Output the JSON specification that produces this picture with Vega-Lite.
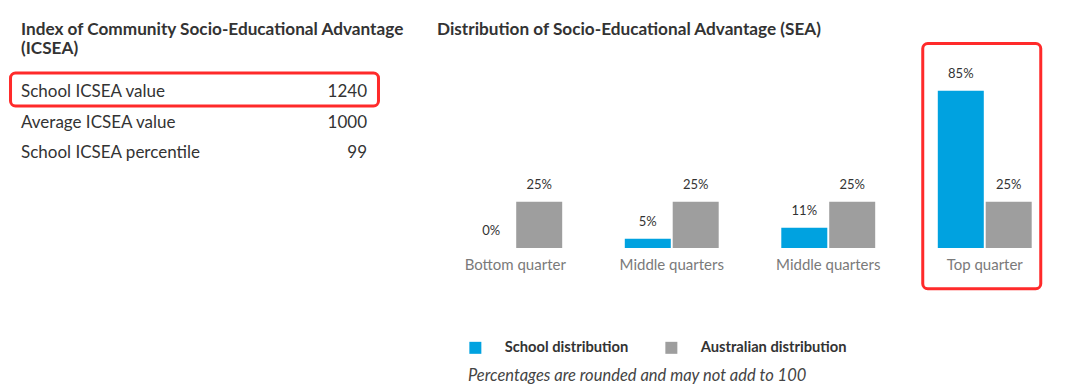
{
  "$schema": "https://vega.github.io/schema/vega-lite/v6.json",
  "padding": {"left": 9, "top": 20, "right": 0, "bottom": 0},
  "background": "white",
  "config": {
    "font": "Lato",
    "view": {"stroke": null},
    "title": {"font": "Lato", "fontSize": 17.2, "fontWeight": "bold", "color": "#333333", "anchor": "start", "frame": "group"}
  },
  "bounds": "flush",
  "spacing": 70,
  "hconcat": [
    {
      "width": 346,
      "height": 119,
      "title": {"text": ["Index of Community Socio-Educational Advantage", "(ICSEA)"], "offset": 6, "lineHeight": 19},
      "data": {"values": [
        {"label": "School ICSEA value", "value": "1240"},
        {"label": "Average ICSEA value", "value": "1000"},
        {"label": "School ICSEA percentile", "value": "99"}
      ]},
      "encoding": {
        "y": {"field": "label", "type": "nominal", "sort": null, "axis": null, "scale": {"paddingInner": 0, "paddingOuter": 0.45}}
      },
      "layer": [
        {
          "mark": {"type": "text", "align": "left", "baseline": "middle", "fontSize": 17, "color": "#333333"},
          "encoding": {
            "x": {"datum": 0, "type": "quantitative", "scale": {"domain": [0, 1]}, "axis": null},
            "text": {"field": "label"}
          }
        },
        {
          "mark": {"type": "text", "align": "right", "baseline": "middle", "fontSize": 17, "color": "#333333"},
          "encoding": {
            "x": {"datum": 1, "type": "quantitative"},
            "text": {"field": "value"}
          }
        },
        {
          "transform": [{"filter": "datum.label === 'School ICSEA value'"}],
          "mark": {"type": "bar", "size": 33, "yOffset": -2.5, "fill": "transparent", "stroke": "#ff2a2a", "strokeWidth": 3, "cornerRadius": 5},
          "encoding": {
            "x": {"datum": -0.0303, "type": "quantitative"},
            "x2": {"datum": 1.0332}
          }
        }
      ]
    },
    {
      "width": 626,
      "height": 185,
      "title": {"text": "Distribution of Socio-Educational Advantage (SEA)", "offset": 4},
      "data": {"values": [
        {"group": "Bottom quarter", "series": "School distribution", "value": 0},
        {"group": "Bottom quarter", "series": "Australian distribution", "value": 0.25},
        {"group": "Middle quarters (lower)", "series": "School distribution", "value": 0.05},
        {"group": "Middle quarters (lower)", "series": "Australian distribution", "value": 0.25},
        {"group": "Middle quarters (upper)", "series": "School distribution", "value": 0.11},
        {"group": "Middle quarters (upper)", "series": "Australian distribution", "value": 0.25},
        {"group": "Top quarter", "series": "School distribution", "value": 0.85},
        {"group": "Top quarter", "series": "Australian distribution", "value": 0.25}
      ]},
      "encoding": {
        "x": {
          "field": "group", "type": "nominal", "sort": null,
          "scale": {"paddingInner": 0.4, "paddingOuter": 0.2},
          "axis": {"title": null, "domain": false, "ticks": false, "labelAngle": 0, "labelFontSize": 15, "labelColor": "#7a7a7a", "labelPadding": 9,
                   "labelExpr": "replace(replace(datum.label, ' (lower)', ''), ' (upper)', '')"}
        }
      },
      "layer": [
        {
          "mark": {"type": "bar"},
          "encoding": {
            "xOffset": {"field": "series", "type": "nominal", "sort": null, "scale": {"paddingInner": 0.04, "paddingOuter": 0}},
            "y": {"field": "value", "type": "quantitative", "scale": {"domain": [0, 1]}, "axis": null},
            "color": {
              "field": "series", "type": "nominal", "sort": null,
              "scale": {"domain": ["School distribution", "Australian distribution"], "range": ["#00a2e0", "#9e9e9e"]},
              "legend": {
                "orient": "none", "legendX": 447, "legendY": 277, "direction": "horizontal",
                "title": "Percentages are rounded and may not add to 100",
                "titleOrient": "bottom", "titleAnchor": "start", "titleFontStyle": "italic", "titleFontWeight": "normal",
                "titleFontSize": 16.5, "titleColor": "#444444", "titleLimit": 600, "titlePadding": 13,
                "symbolType": "square", "symbolSize": 144, "symbolStrokeWidth": 0, "symbolOpacity": 1,
                "labelFontSize": 14.7, "labelFontWeight": "bold", "labelColor": "#333333", "labelOffset": 22, "columnPadding": 35
              }
            }
          }
        },
        {
          "mark": {"type": "text", "baseline": "middle", "dy": -17, "fontSize": 13, "color": "#333333"},
          "encoding": {
            "xOffset": {"field": "series", "type": "nominal", "sort": null},
            "y": {"field": "value", "type": "quantitative"},
            "text": {"field": "value", "type": "quantitative", "format": ".0%"}
          }
        },
        {
          "data": {"values": [{"box": "highlight"}]},
          "mark": {"type": "bar", "width": 118, "xOffset": -3, "fill": "transparent", "stroke": "#ff2a2a", "strokeWidth": 3, "cornerRadius": 5},
          "encoding": {
            "x": {"datum": "Top quarter", "type": "nominal"},
            "y": {"datum": 1.105, "type": "quantitative"},
            "y2": {"datum": -0.22}
          }
        }
      ]
    }
  ]
}
